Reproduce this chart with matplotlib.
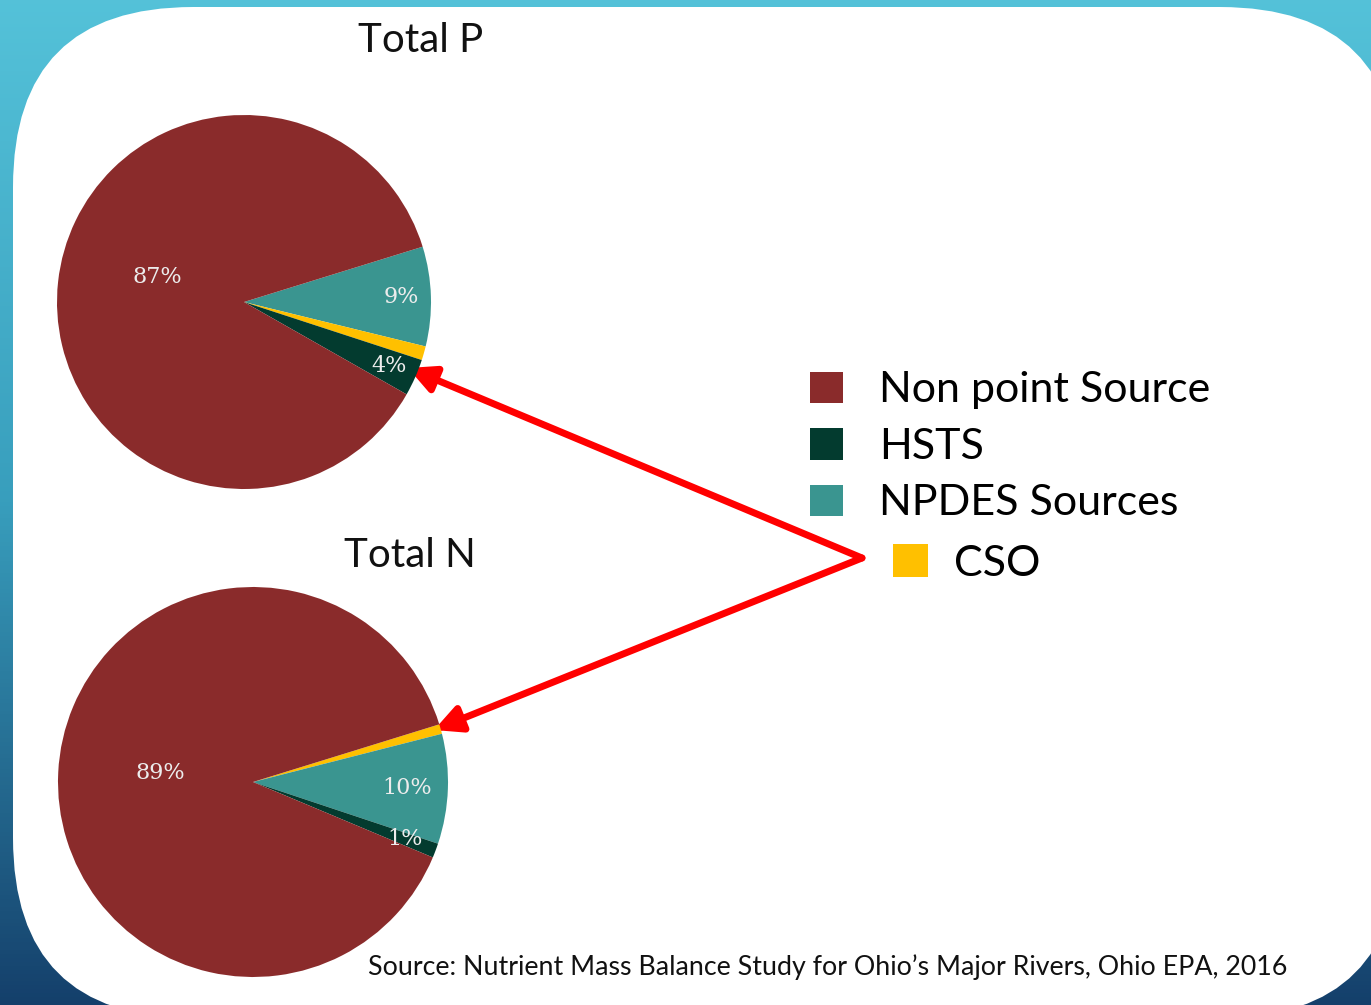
import matplotlib
matplotlib.use('Agg')
import matplotlib.pyplot as plt
from matplotlib.patches import FancyBboxPatch, Rectangle
import numpy as np

categories = ['Non point Source', 'HSTS', 'NPDES Sources', 'CSO']
colors = {'Non point Source': '#8a2b2b', 'HSTS': '#033b2f',
          'NPDES Sources': '#3a9590', 'CSO': '#ffc000'}

# shares, drawn clockwise from the top edge of the small slices
p_order = ['NPDES Sources', 'CSO', 'HSTS', 'Non point Source']
p_values = [8.6, 1.2, 3.2, 87.0]
p_labels = ['9%', '', '4%', '87%']

n_order = ['CSO', 'NPDES Sources', 'HSTS', 'Non point Source']
n_values = [0.8, 9.1, 1.2, 88.9]
n_labels = ['', '10%', '1%', '89%']

source = 'Source: Nutrient Mass Balance Study for Ohio\u2019s Major Rivers, Ohio EPA, 2016'

W, H = 1371, 1005
fig = plt.figure(figsize=(W / 100, H / 100), dpi=100)

# background: blue gradient with a white rounded card
bg = fig.add_axes([0, 0, 1, 1])
bg.set_xlim(0, W)
bg.set_ylim(H, 0)
bg.axis('off')
top = np.array([0.33, 0.76, 0.85])
mid = np.array([0.22, 0.62, 0.74])
bot = np.array([0.08, 0.25, 0.42])
t = np.linspace(0, 1, 256)[:, None]
grad = np.where(t < 0.5, top + (mid - top) * (t / 0.5), mid + (bot - mid) * ((t - 0.5) / 0.5))
bg.imshow(grad[:, None, :].repeat(2, axis=1), extent=[0, W, H, 0], aspect='auto', zorder=0)
rad = 180
card = FancyBboxPatch((13 + rad, 7 + rad), 1400 - 13 - 2 * rad, 1018 - 7 - 2 * rad,
                      boxstyle='round,pad=%d' % rad, facecolor='white', edgecolor='none', zorder=1)
bg.add_patch(card)

font = 'Lato'


def draw_pie(cx, cy, r, order, values, labels, label_pos, title, title_xy):
    ax = fig.add_axes([(cx - r) / W, (H - cy - r) / H, 2 * r / W, 2 * r / H])
    wedges, _ = ax.pie(values, colors=[colors[c] for c in order], startangle=17.2,
                       counterclock=False, wedgeprops=dict(linewidth=0))
    ax.set_xlim(-1, 1)
    ax.set_ylim(-1, 1)
    for w, lab, (lr, dang) in zip(wedges, labels, label_pos):
        if not lab:
            continue
        ang = np.deg2rad((w.theta1 + w.theta2) / 2 + dang)
        ax.text(lr * np.cos(ang), lr * np.sin(ang), lab, ha='center', va='center',
                fontsize=16, color='#ececec', family='DejaVu Serif')
    bg.text(title_xy[0], title_xy[1], title, ha='center', va='center', fontsize=29,
            family=font, color='#111111', zorder=3)
    return wedges


p_wedges = draw_pie(244, 302, 187, p_order, p_values, p_labels,
                    [(0.84, 0), (0, 0), (0.85, 0), (0.48, -10)],
                    'Total P', (421, 40))
n_wedges = draw_pie(253, 782, 195, n_order, n_values, n_labels,
                    [(0, 0), (0.79, 0), (0.83, 0), (0.48, -3)],
                    'Total N', (410, 555))

# legend
handles = {c: Rectangle((0, 0), 1, 1, facecolor=colors[c]) for c in categories}
leg1 = fig.legend([handles[c] for c in categories[:3]], categories[:3],
                  loc='upper left', bbox_to_anchor=(776 / W, 1 - 337 / H), frameon=False,
                  prop=dict(family=font, size=31), handlelength=0.75, handleheight=0.75,
                  handletextpad=0.85, labelspacing=0.43, borderpad=0.3)
leg2 = fig.legend([handles['CSO']], ['CSO'], loc='upper left',
                  bbox_to_anchor=(859 / W, 1 - 510 / H), frameon=False,
                  prop=dict(family=font, size=31), handlelength=0.8, handleheight=0.8,
                  handletextpad=0.6, borderpad=0.3)

# red arrows pointing at the CSO slices
for tip in [(408, 368), (434, 730)]:
    bg.annotate('', xy=tip, xytext=(862, 558),
                arrowprops=dict(arrowstyle='-|>', color='#ff0000', lw=5, mutation_scale=40,
                                shrinkA=0, shrinkB=0), zorder=4)

bg.text(828, 967, source, ha='center', va='center', fontsize=19.3, family=font,
        color='#111111', zorder=3)

fig.savefig('out.png', dpi=100)
